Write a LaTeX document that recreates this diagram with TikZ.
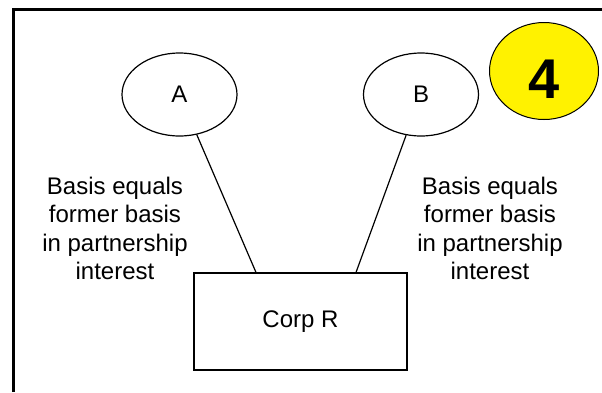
\documentclass[tikz,border=0pt]{standalone}
\usepackage{fontspec}
\setmainfont{Liberation Sans}
\usetikzlibrary{shapes,positioning}

\begin{document}
\begin{tikzpicture}[-,x=1pt,y=-1pt,line width=1.2pt]
\tikzstyle{every node}=[font=\fontsize{24}{28.3}\selectfont]
\tikzstyle{partner}=[shape=ellipse,draw,minimum width=115pt,minimum height=83pt,inner sep=0pt]
\tikzstyle{note}=[align=center,inner sep=0pt]
\useasboundingbox (0,0) rectangle (602,392);

% frame
\draw[line width=3pt] (13.5,392) -- (13.5,9.5) -- (602,9.5);

\node[partner]      (A) at (179.5,94.5) {A};
\node[partner]      (B) [right of=A, node distance=241.5pt] {B};
\node[draw,shape=rectangle,minimum width=213pt,minimum height=97pt] (R) at (300.5,321.5) {Corp R};
\node[note]         (L) at (115,228.5) {Basis equals\\former basis\\in partnership\\interest};
\node[note]         (M) [right of=L, node distance=375pt] {Basis equals\\former basis\\in partnership\\interest};
\node[shape=ellipse,draw,fill=yellow,line width=1pt,minimum width=109pt,minimum height=97pt,text height=55pt,inner sep=0pt,font=\bfseries\fontsize{56}{56}\selectfont] (N) at (544,71) {4};

\path
(A) edge ([xshift=-44.5pt]R.north)
(B) edge ([xshift=55.5pt]R.north)
;
\end{tikzpicture}
\end{document}
